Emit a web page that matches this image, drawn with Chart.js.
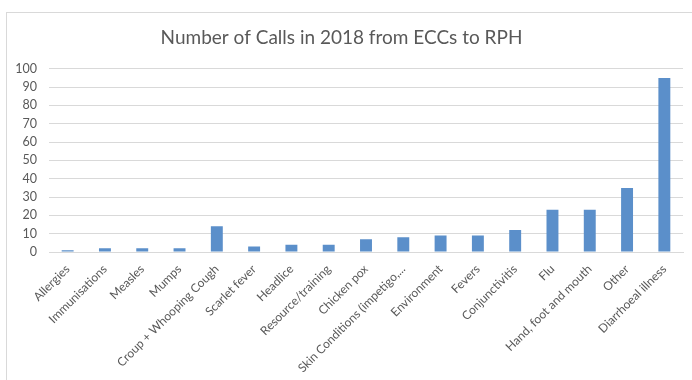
<!DOCTYPE html>
<html>
<head>
<meta charset="utf-8">
<script src="https://cdn.jsdelivr.net/npm/chart.js@4"></script>
<style>
  html, body { margin: 0; padding: 0; background: #fff; }
  #wrap { position: relative; width: 692px; height: 380px; overflow: hidden; }
  #frame {
    position: absolute; left: 6px; top: 12px; width: 720px; height: 400px;
    border: 1px solid #d9d9d9; box-sizing: border-box;
  }
  #chart { position: absolute; left: 0; top: 0; }
</style>
</head>
<body>
<div id="wrap">
  <div id="frame"></div>
  <canvas id="chart" width="692" height="380"></canvas>
</div>
<script>
const categories = [
  "Allergies",
  "Immunisations",
  "Measles",
  "Mumps",
  "Croup + Whooping Cough",
  "Scarlet fever",
  "Headlice",
  "Resource/training",
  "Chicken pox",
  "Skin Conditions (impetigo,...",
  "Environment",
  "Fevers",
  "Conjunctivitis",
  "Flu",
  "Hand, foot and mouth",
  "Other",
  "Diarrhoeal illness",
];
const calls = [1, 2, 2, 2, 14, 3, 4, 4, 7, 8, 9, 9, 12, 23, 23, 35, 95];
const yTicks = [0, 10, 20, 30, 40, 50, 60, 70, 80, 90, 100];

const textGrey = "#595959";
const gridGrey = "#d9d9d9";

new Chart(document.getElementById("chart").getContext("2d"), {
  type: "bar",
  data: {
    labels: categories,
    datasets: [
      {
        label: "Calls",
        data: calls,
        backgroundColor: "#5b8fca",
        barPercentage: 0.32,
        categoryPercentage: 1,
      },
    ],
  },
  options: {
    responsive: false,
    animation: false,
    layout: { padding: { left: 0, right: 9, top: 0, bottom: 0 } },
    plugins: {
      legend: { display: false },
      tooltip: { enabled: false },
      title: {
        display: true,
        text: "Number of Calls in 2018 from ECCs to RPH",
        color: textGrey,
        font: { family: "Lato", size: 19, weight: "normal" },
        padding: { top: 26, bottom: 20 },
      },
    },
    scales: {
      x: {
        grid: { display: false },
        border: { color: gridGrey },
        ticks: {
          color: textGrey,
          font: { family: "Lato", size: 12 },
          maxRotation: 45,
          minRotation: 45,
          autoSkip: false,
          padding: 2,
        },
        afterFit: (scale) => {
          scale.height = 128;
        },
      },
      y: {
        min: 0,
        max: 100,
        afterBuildTicks: (scale) => {
          scale.ticks = yTicks.map((v) => ({ value: v }));
        },
        grid: { color: gridGrey, drawTicks: false },
        border: { display: false },
        ticks: {
          color: textGrey,
          font: { family: "Lato", size: 12.5 },
          padding: 12,
        },
        afterFit: (scale) => {
          scale.width = 49;
        },
      },
    },
  },
});
</script>
</body>
</html>
